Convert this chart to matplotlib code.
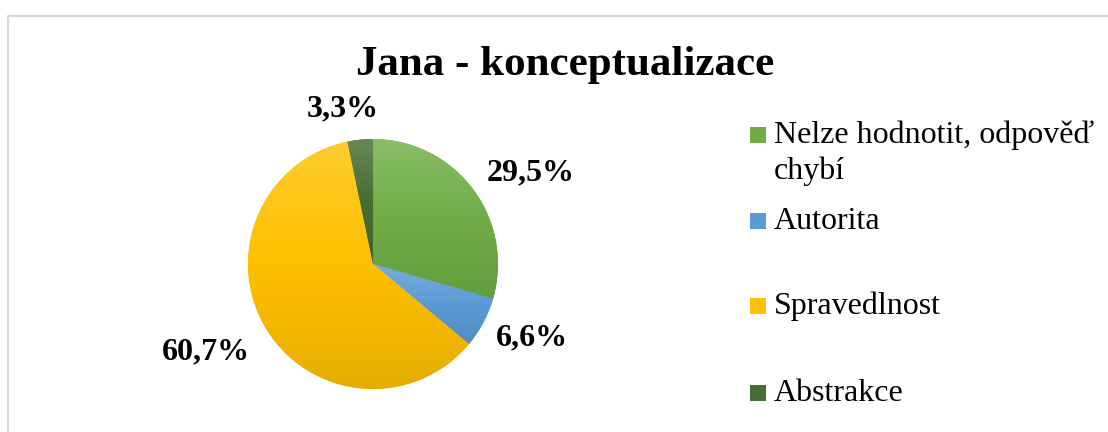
import numpy as np
import matplotlib
matplotlib.use('Agg')
import matplotlib.pyplot as plt
from matplotlib.colors import to_rgb
from matplotlib.patches import Rectangle
from matplotlib.lines import Line2D

# data
categories = ['Nelze hodnotit, odpověď\nchybí', 'Autorita', 'Spravedlnost', 'Abstrakce']
counts = [18, 4, 37, 2]
colors = ['#70AD47', '#5B9BD5', '#FFC000', '#476D31']
title = 'Jana - konceptualizace'

# label anchors (pie radius = 1)
label_pos = [(1.26, 0.73), (1.27, -0.59), (-1.34, -0.70), (-0.24, 1.24)]

W, H = 1108, 432
plt.rcParams['font.family'] = ['Liberation Serif', 'DejaVu Serif']
fig = plt.figure(figsize=(W / 100, H / 100), dpi=100)

def fx(px):
    return px / W

def fy(py):
    return 1 - py / H

# chart frame (only top and left edges are inside the picture)
fig.add_artist(Line2D([fx(7.5), fx(7.5), 1.0], [0.0, fy(15.5), fy(15.5)],
                      transform=fig.transFigure, color='#D9D9D9', linewidth=1.5))

cx, cy = 373, 264
side = 300
ax = fig.add_axes([fx(cx - side / 2), fy(cy + side / 2), side / W, side / H])

wedges, _ = ax.pie(counts, colors=colors, startangle=90, counterclock=False,
                   radius=1, wedgeprops=dict(linewidth=0))

# vertical gradient on each wedge: lighter on top, darker at bottom
for w, c in zip(wedges, colors):
    base = np.array(to_rgb(c))
    top = base + (1 - base) * 0.18
    bot = base * 0.9
    ext = w.get_patch_transform().transform_path(w.get_path()).get_extents()
    t = np.linspace(0, 1, 256)[:, None]
    grad = np.where(t < 0.5, top + (base - top) * (t / 0.5),
                    base + (bot - base) * ((t - 0.5) / 0.5))
    img = grad[:, None, :].repeat(2, axis=1)
    im = ax.imshow(img, extent=(ext.x0, ext.x1, ext.y0, ext.y1),
                   origin='upper', aspect='auto', zorder=w.get_zorder() + 0.1)
    im.set_clip_path(w)
ax.set_xlim(-1.2, 1.2)
ax.set_ylim(-1.2, 1.2)
ax.set_aspect('equal')
ax.axis('off')

total = sum(counts)
for n, (x, y) in zip(counts, label_pos):
    pct = f'{100 * n / total:.1f}%'.replace('.', ',')
    ax.text(x, y, pct, ha='center', va='center', fontsize=23,
            fontweight='bold', color='black')

fig.text(fx(565), fy(75), title, ha='center', va='baseline',
         fontsize=31, fontweight='bold')

# legend
base_y = [143, 229, 314, 401]
for lab, c, by in zip(categories, colors, base_y):
    fig.patches.append(Rectangle((fx(750), fy(by)), 16 / W, 16 / H,
                                 transform=fig.transFigure, facecolor=c,
                                 edgecolor='none'))
    lines = lab.split('\n')
    for i, ln in enumerate(lines):
        fig.text(fx(774), fy(by + 36 * i), ln, ha='left', va='baseline',
                 fontsize=23)

fig.savefig('out.png', dpi=100)
